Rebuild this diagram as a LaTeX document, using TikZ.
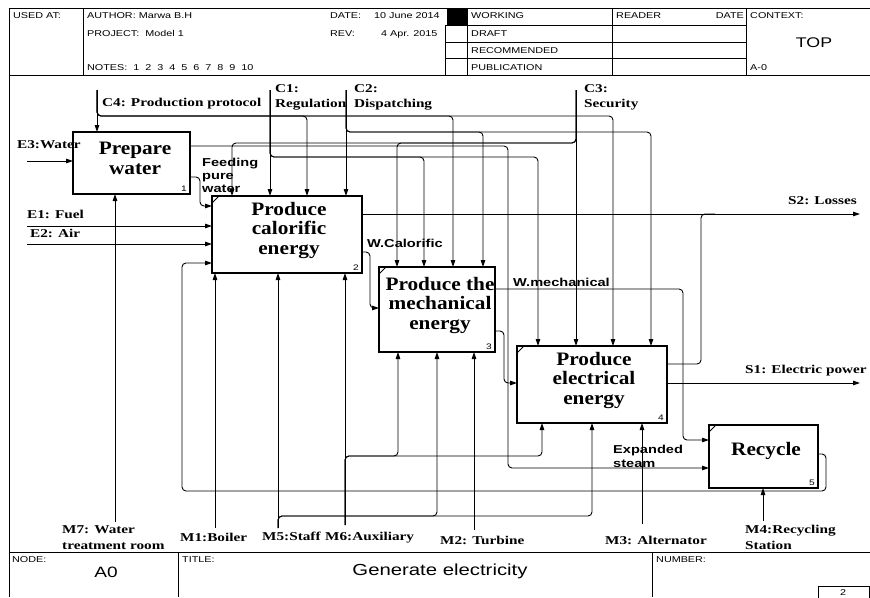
\documentclass[tikz,border=0pt]{standalone}
\usepackage{fontspec}
\setmainfont{Liberation Serif}
\newfontfamily\hdrfont[FakeStretch=1.27]{Liberation Sans}
\newfontfamily\lblfont[FakeStretch=1.27]{Liberation Serif}
\newfontfamily\ttlfont[FakeStretch=1.12]{Liberation Serif}
\usetikzlibrary{arrows.meta,calc}
\begin{document}
\begin{tikzpicture}[x=1pt,y=-1pt,
  frame/.style={line width=0.9pt},
  box/.style={draw,line width=1.5pt,inner sep=0,outer sep=0,anchor=north west},
  ttl/.style={font=\ttlfont\bfseries\fontsize{19}{19.5}\selectfont,align=center,anchor=north,inner sep=0},
  num/.style={font=\hdrfont\fontsize{8}{9}\selectfont,anchor=south east,inner sep=0},
  hdr/.style={font=\hdrfont\fontsize{8.5}{10}\selectfont,anchor=base west,inner sep=0},
  lbl/.style={font=\lblfont\bfseries\fontsize{12}{15}\selectfont,anchor=base west,inner sep=0},
  slbl/.style={font=\hdrfont\bfseries\fontsize{11.5}{13}\selectfont,anchor=base west,inner sep=0},
  con/.style={line width=0.9pt,rounded corners=4pt},
  arr/.style={con,-{Triangle[length=7pt,width=4.5pt]}},
  cmark/.style={line width=1pt}]
\useasboundingbox (0,0) rectangle (870,597);

% ---------- header ----------
\draw[frame] (9,8) -- (870,8);
\draw[frame] (9,8) -- (9,597);
\draw[frame] (9,75) -- (870,75);
\draw[frame] (83,8) -- (83,75);
\fill (447,8) rectangle (467,25);
\draw[frame] (445,25) -- (445,75);
\draw[frame] (467,8) -- (467,75);
\draw[frame] (612,8) -- (612,75);
\draw[frame] (746,8) -- (746,75);
\draw[frame] (445,25) -- (746,25);
\draw[frame] (445,42) -- (746,42);
\draw[frame] (445,58) -- (746,58);

\node[hdr] (usedat) at (13,19) {USED AT:};
\node[hdr] (author) at (87,19) {AUTHOR: Marwa B.H};
\node[hdr] (project) at (87,36) {PROJECT:\ \ Model 1};
\node[hdr] (notes) at (87,70) {NOTES:\ \ 1\ \ 2\ \ 3\ \ 4\ \ 5\ \ 6\ \ 7\ \ 8\ \ 9\ \ 10};
\node[hdr] (date) at (330,19) {DATE:};
\node[hdr] (dateval) at (374,19) {10 June 2014};
\node[hdr] (rev) at (330,36) {REV:};
\node[hdr] (revval) at (381,36) {4 Apr. 2015};
\node[hdr] (working) at (471,19) {WORKING};
\node[hdr] (draft) at (471,36) {DRAFT};
\node[hdr] (recom) at (471,53) {RECOMMENDED};
\node[hdr] (publ) at (471,70) {PUBLICATION};
\node[hdr] (reader) at (616,19) {READER};
\node[hdr,anchor=base east] (rdate) at (744,19) {DATE};
\node[hdr] (context) at (750,19) {CONTEXT:};
\node[font=\hdrfont\fontsize{14}{16}\selectfont,anchor=base,inner sep=0] (top) at (814,47) {TOP};
\node[hdr] (aminus) at (750,70) {A-0};

% ---------- footer ----------
\draw[frame] (9,552) -- (870,552);
\draw[frame] (178,552) -- (178,597);
\draw[frame] (652,552) -- (652,597);
\draw[frame] (818,586) rectangle (869,599);
\node[hdr] (nodel) at (12,562) {NODE:};
\node[font=\hdrfont\fontsize{15}{17}\selectfont,anchor=base,inner sep=0] (a0) at (106,577) {A0};
\node[hdr] (titlel) at (182,562) {TITLE:};
\node[font=\hdrfont\fontsize{16}{18}\selectfont,anchor=base,inner sep=0] (title) at (440,575) {Generate electricity};
\node[hdr] (numberl) at (656,562) {NUMBER:};
\node[hdr,anchor=base] (pagenum) at (843,595) {2};

% ---------- boxes ----------
\node[box,minimum width=117pt,minimum height=62pt] (b1) at (73,132) {};
\node[box,minimum width=150pt,minimum height=77pt] (b2) at (212,196) {};
\node[box,minimum width=116pt,minimum height=85pt] (b3) at (379,267) {};
\node[box,minimum width=150pt,minimum height=77pt] (b4) at (517,346) {};
\node[box,minimum width=109pt,minimum height=63pt] (b5) at (709,425) {};

\node[ttl] (t1) at (135,142) {Prepare\\water};
\node[ttl] (t2) at (289,202) {Produce\\calorific\\energy};
\node[ttl] (t3) at (440,277) {Produce the\\mechanical\\energy};
\node[ttl] (t4) at (594,352) {Produce\\electrical\\energy};
\node[ttl] (t5) at (766,442) {Recycle};

\node[num] (n1) at ($(b1.south east)+(-3,-2)$) {1};
\node[num] (n2) at ($(b2.south east)+(-3,-2)$) {2};
\node[num] (n3) at ($(b3.south east)+(-3,-2)$) {3};
\node[num] (n4) at ($(b4.south east)+(-3,-2)$) {4};
\node[num] (n5) at ($(b5.south east)+(-3,-2)$) {5};

\draw[cmark] ($(b2.north west)+(0,7)$) -- ++(7,-7);
\draw[cmark] ($(b3.north west)+(0,7)$) -- ++(7,-7);
\draw[cmark] ($(b4.north west)+(0,7)$) -- ++(7,-7);
\draw[cmark] ($(b5.north west)+(0,7)$) -- ++(7,-7);

% ---------- controls ----------
\coordinate (c4) at (97,90);
\coordinate (c4a) at (307,116);
\coordinate (c4b) at (453,116);
\coordinate (c4c) at (613,116);
\draw[arr] (c4) -- (c4 |- b1.north);
\draw[arr] (c4) |- (c4a) -- (c4a |- b2.north);
\draw[arr] (c4) |- (c4b) -- (c4b |- b3.north);
\draw[arr] (c4) |- (c4c) -- (c4c |- b4.north);

\coordinate (c1) at (270,90);
\coordinate (c1a) at (424,157);
\coordinate (c1b) at (538,157);
\draw[arr] (c1) -- (c1 |- b2.north);
\draw[arr] (c1) |- (c1a) -- (c1a |- b3.north);
\draw[arr] (c1) |- (c1b) -- (c1b |- b4.north);

\coordinate (c2) at (346,90);
\coordinate (c2a) at (483,132);
\coordinate (c2b) at (651,132);
\draw[arr] (c2) -- (c2 |- b2.north);
\draw[arr] (c2) |- (c2a) -- (c2a |- b3.north);
\draw[arr] (c2) |- (c2b) -- (c2b |- b4.north);

\coordinate (c3) at (576,90);
\coordinate (c3a) at (397,143);
\coordinate (c3b) at (232,143);
\draw[arr] (c3) -- (c3 |- b4.north);
\draw[arr] (c3) |- (c3a) -- (c3a |- b3.north);
\draw[arr] (c3) |- (c3b) -- (c3b |- b2.north);

% ---------- inputs ----------
\coordinate (e3) at (27,161);
\coordinate (e1) at (27,226);
\coordinate (e2) at (27,244);
\draw[arr] (e3) -- (e3 -| b1.west);
\draw[arr] (e1) -- (e1 -| b2.west);
\draw[arr] (e2) -- (e2 -| b2.west);

% feeding pure water
\draw[arr] ($(b1.north east)+(0,45)$) -- ++(10,0) |- ($(b2.north west)+(0,10)$);
% box1 line to recycle (expanded steam)
\coordinate (x508) at (508,468);
\draw[arr] ($(b1.north east)+(0,14)$) -| (x508) -- (x508 -| b5.west);
% recycle feedback
\coordinate (fb) at (182,491);
\draw[arr] ($(b5.north east)+(0,29)$) -- ++(8,0) |- (fb) |- ($(b2.north west)+(0,67)$);

% ---------- outputs ----------
\coordinate (s2) at (860,214);
\draw[arr] (b2.east |- s2) -- (s2);
\coordinate (jn) at (701,214);
\draw[con] ($(b4.north east)+(0,18)$) -| (jn) -- ++(14,0);
\draw[arr] ($(b2.north east)+(0,56)$) -- ++(8,0) |- ($(b3.north west)+(0,41)$);
\coordinate (x683) at (683,440);
\draw[arr] ($(b3.north east)+(0,22)$) -| (x683) -- (x683 -| b5.west);
\draw[arr] ($(b3.north east)+(0,64)$) -- ++(9,0) |- ($(b4.north west)+(0,37)$);
\coordinate (s1) at (860,383);
\draw[arr] (b4.east |- s1) -- (s1);

% ---------- mechanisms ----------
\coordinate (m7) at (115,522);
\coordinate (m1) at (215,528);
\coordinate (m5) at (278,528);
\coordinate (m6) at (345,525);
\coordinate (m2) at (474,530);
\coordinate (m3) at (642,524);
\coordinate (m4) at (763,521);
\draw[arr] (m7) -- (m7 |- b1.south);
\draw[arr] (m1) -- (m1 |- b2.south);
\draw[arr] (m5) -- (m5 |- b2.south);
\draw[arr] (m6) -- (m6 |- b2.south);
\draw[arr] (m2) -- (m2 |- b3.south);
\draw[arr] (m3) -- (m3 |- b4.south);
\draw[arr] (m4) -- (m4 |- b5.south);
\coordinate (m5a) at (437,516);
\coordinate (m5b) at (592,516);
\draw[arr] (m5) |- (m5a) -- (m5a |- b3.south);
\draw[arr] (m5) |- (m5b) -- (m5b |- b4.south);
\coordinate (m6a) at (398,456);
\coordinate (m6b) at (542,456);
\draw[arr] (m6) |- (m6a) -- (m6a |- b3.south);
\draw[arr] (m6) |- (m6b) -- (m6b |- b4.south);

% ---------- labels ----------
\node[lbl] (lc4) at (102,106) {C4: Production protocol};
\node[lbl,align=left,anchor=north west] (lc1) at (275,84) {C1:\\Regulation};
\node[lbl,align=left,anchor=north west] (lc2) at (354,84) {C2:\\Dispatching};
\node[lbl,align=left,anchor=north west] (lc3) at (584,84) {C3:\\Security};
\node[lbl] (le3) at (17,148) {E3:Water};
\node[lbl] (le1) at (27,218) {E1: Fuel};
\node[lbl] (le2) at (30,237) {E2: Air};
\node[lbl] (ls2) at (788,204) {S2: Losses};
\node[lbl] (ls1) at (745,373) {S1: Electric power};
\node[lbl] (lm7) at (62,533) {M7: Water};
\node[lbl] (lm7b) at (62,549) {treatment room};
\node[lbl] (lm1) at (180,541) {M1:Boiler};
\node[lbl] (lm5) at (262,540) {M5:Staff};
\node[lbl] (lm6) at (325,540) {M6:Auxiliary};
\node[lbl] (lm2) at (440,544) {M2: Turbine};
\node[lbl] (lm3) at (605,544) {M3: Alternator};
\node[lbl] (lm4) at (745,533) {M4:Recycling};
\node[lbl] (lm4b) at (745,549) {Station};
\node[slbl] (lfeed) at (202,166) {Feeding};
\node[slbl] (lpure) at (202,179) {pure};
\node[slbl] (lwater) at (202,192) {water};
\node[slbl] (lwcal) at (367,247) {W.Calorific};
\node[slbl] (lwmec) at (513,286) {W.mechanical};
\node[slbl] (lexp) at (613,453) {Expanded};
\node[slbl] (lsteam) at (613,467) {steam};
\end{tikzpicture}
\end{document}
